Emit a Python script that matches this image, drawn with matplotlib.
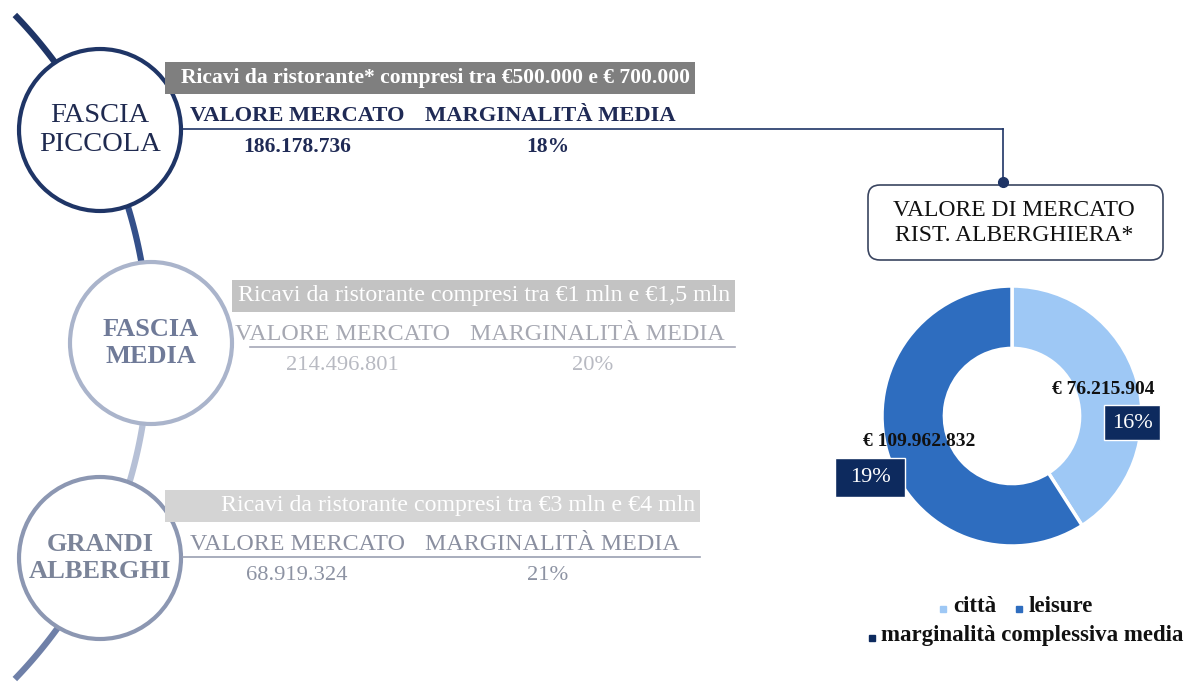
import numpy as np
import matplotlib.pyplot as plt
from matplotlib.patches import Circle, Rectangle, FancyBboxPatch

plt.rcParams['font.family'] = ['Liberation Serif', 'DejaVu Serif']

# data
fasce = ['FASCIA\nPICCOLA', 'FASCIA\nMEDIA', 'GRANDI\nALBERGHI']
ricavi = ['Ricavi da ristorante* compresi tra €500.000 e € 700.000',
          'Ricavi da ristorante compresi tra €1 mln e €1,5 mln',
          'Ricavi da ristorante compresi tra €3 mln e €4 mln']
valore_mercato = ['186.178.736', '214.496.801', '68.919.324']
marginalita = ['18%', '20%', '21%']

segmenti = ['città', 'leisure']
valori_segmenti = [76215904, 109962832]
marg_segmenti = ['16%', '19%']

W, H = 1186, 682
fig = plt.figure(figsize=(W / 100, H / 100), dpi=100)

# donut (drawn first so the overlay texts sit on top)
colori = ['#9ec8f5', '#2e6dbf']
pcx, pcy, pr = 1012, 416, 130
pax = fig.add_axes([(pcx - pr) / W, 1 - (pcy + pr) / H, 2 * pr / W, 2 * pr / H])
pax.pie(valori_segmenti, colors=colori, startangle=90, counterclock=False,
        radius=1, wedgeprops=dict(width=0.48, edgecolor='white', linewidth=2.5))
pax.set_xlim(-1, 1)
pax.set_ylim(-1, 1)

ax = fig.add_axes([0, 0, 1, 1])
ax.set_xlim(0, W)
ax.set_ylim(H, 0)
ax.axis('off')

# spine arc behind circles
cx, cy, R = -329, 347, 478
def arc(a0, a1, color):
    t = np.radians(np.linspace(a0, a1, 60))
    ax.plot(cx + R * np.cos(t), cy + R * np.sin(t), color=color, lw=4.5,
            solid_capstyle='butt', zorder=1)
arc(-44, -25, '#1f3566')
arc(-25, -8, '#34508a')
arc(-8, 8, '#8090b5')
arc(8, 25, '#b6c0d6')
arc(25, 44, '#6f80a8')

# circles
centri = [(100, 130), (151, 343), (100, 558)]
bordi = ['#1f3566', '#aab4cb', '#8c97b2']
col_testo = ['#1f2a50', '#6f7a98', '#7b8499']
for i, ((x, y), ec, tc, nome) in enumerate(zip(centri, bordi, col_testo, fasce)):
    ax.add_patch(Circle((x, y), 81, fc='white', ec=ec, lw=3, zorder=2))
    ax.text(x, y, nome, ha='center', va='center',
            fontsize=20.5 if i == 0 else 19,
            color=tc, linespacing=1.25 if i == 0 else 1.2, zorder=3,
            fontweight='normal' if i == 0 else 'bold')

# table rows
righe = [
    dict(x0=165, x1=695, ytop=62, box='#7f7f7f', head='#1f2a55',
         val='#1f2a55', line='#1f3566', hx=(190, 425)),
    dict(x0=232, x1=735, ytop=280, box='#c3c3c3', head='#a6a8b2',
         val='#b8bac2', line='#a6a8b8', hx=(235, 470)),
    dict(x0=165, x1=700, ytop=490, box='#d4d4d4', head='#8a8fa0',
         val='#8d93a3', line='#9aa0b2', hx=(190, 425)),
]
for i, r in enumerate(righe):
    peso = 'bold' if i == 0 else 'normal'
    fs_box, fs_head, fs_val = (15.5, 16.2, 15.5) if i == 0 else (17.2, 17.3, 16.2)
    ax.add_patch(Rectangle((r['x0'], r['ytop']), r['x1'] - r['x0'], 32,
                           fc=r['box'], ec='none', zorder=2))
    ax.text(r['x1'] - 5, r['ytop'] + 16, ricavi[i], ha='right', va='center',
            fontsize=fs_box, color='white', fontweight=peso, zorder=3)
    yh = r['ytop'] + 54
    ax.text(r['hx'][0], yh, 'VALORE MERCATO', ha='left', va='center',
            fontsize=fs_head, color=r['head'], fontweight=peso)
    ax.text(r['hx'][1], yh, 'MARGINALITÀ MEDIA', ha='left', va='center',
            fontsize=fs_head, color=r['head'], fontweight=peso)
    yl = yh + 13
    x_end = 1003 if i == 0 else r['x1']
    ax.plot([r['x0'] + 18, x_end], [yl, yl], color=r['line'], lw=1.2)
    ax.text(r['hx'][0] + 107, yl + 18, valore_mercato[i], ha='center',
            va='center', fontsize=fs_val, color=r['val'], fontweight=peso)
    ax.text(r['hx'][1] + 123, yl + 18, marginalita[i], ha='center',
            va='center', fontsize=fs_val, color=r['val'], fontweight=peso)

# connector to title box
ax.plot([1003, 1003], [129, 182], color='#1f3566', lw=1.2)
ax.plot([1003], [182], 'o', color='#1f3566', ms=7, zorder=5)
ax.add_patch(FancyBboxPatch((868, 185), 295, 75,
                            boxstyle='round,pad=0,rounding_size=12',
                            fc='white', ec='#3a4560', lw=1.2, zorder=3))
ax.text(1014, 223, 'VALORE DI MERCATO\nRIST. ALBERGHIERA*', ha='center',
        va='center', fontsize=17, color='#111111', linespacing=1.25, zorder=4)

# donut labels
navy = '#0d2a5e'
ax.text(1103, 389, '€ ' + f'{valori_segmenti[0]:,}'.replace(',', '.'),
        ha='center', va='center', fontsize=14, fontweight='bold',
        color='#111111', zorder=6)
ax.add_patch(Rectangle((1104, 405), 56, 35, fc=navy, ec='white', lw=1, zorder=6))
ax.text(1132, 423, marg_segmenti[0], ha='center', va='center', fontsize=16,
        color='white', zorder=7)
ax.text(919, 441, '€ ' + f'{valori_segmenti[1]:,}'.replace(',', '.'),
        ha='center', va='center', fontsize=14, fontweight='bold',
        color='#111111', zorder=6)
ax.add_patch(Rectangle((835, 458), 70, 39, fc=navy, ec='white', lw=1, zorder=6))
ax.text(870, 478, marg_segmenti[1], ha='center', va='center', fontsize=16,
        color='white', zorder=7)

# legend
ax.plot([943], [609], 's', color=colori[0], ms=5)
ax.text(953, 607, segmenti[0], ha='left', va='center', fontsize=16.5,
        fontweight='bold', color='#111111')
ax.plot([1019], [609], 's', color=colori[1], ms=5)
ax.text(1029, 607, segmenti[1], ha='left', va='center', fontsize=16.5,
        fontweight='bold', color='#111111')
ax.plot([872], [638], 's', color=navy, ms=5)
ax.text(881, 636, 'marginalità complessiva media', ha='left', va='center',
        fontsize=16.5, fontweight='bold', color='#111111')

fig.savefig('out.png', dpi=100)
